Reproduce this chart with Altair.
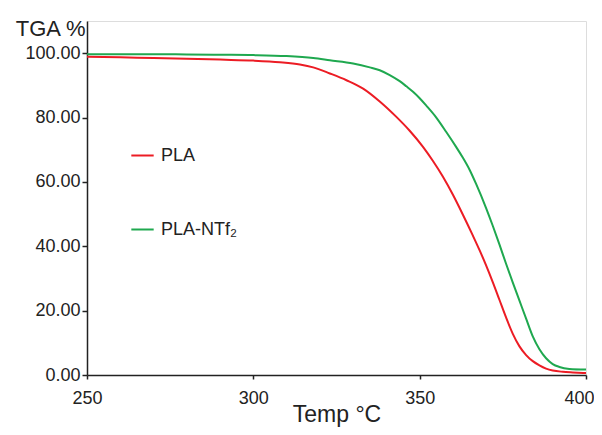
import altair as alt
import pandas as pd

# PLA (red) TGA curve
pla_temp = [250, 260, 270, 280, 290, 300, 308, 314, 318, 323, 328, 333, 338, 343, 347,
            351, 354, 357, 360, 363, 366, 368, 370, 372, 374, 376, 378, 380, 382, 384,
            386, 388, 390, 393, 396, 400]
pla_val = [98.9, 98.7, 98.5, 98.3, 98.0, 97.7, 97.2, 96.5, 95.6, 93.7, 91.6, 89.0, 85.0, 80.2, 75.9,
           70.9, 66.5, 61.6, 56.0, 49.8, 43.3, 38.8, 34.0, 28.8, 23.3, 17.8, 12.8, 8.9, 6.2, 4.3,
           3.0, 2.0, 1.4, 1.0, 0.8, 0.6]

# PLA-NTf2 (green) TGA curve
ntf_temp = [250, 260, 270, 280, 290, 300, 310, 318, 323, 330, 335, 338, 341, 344, 346,
            348, 350, 352, 355, 358, 361, 363, 365, 367, 370, 372, 374, 376, 378, 380,
            382, 384, 386, 388, 390, 392, 395, 400]
ntf_val = [99.7, 99.7, 99.7, 99.6, 99.5, 99.4, 99.1, 98.5, 97.8, 96.8, 95.6, 94.7, 93.2, 91.3, 89.7,
           88.0, 86.0, 83.7, 80.0, 75.5, 70.8, 67.5, 63.8, 59.3, 51.8, 46.3, 40.5, 34.5, 28.7, 23.1,
           17.5, 12.0, 8.0, 5.2, 3.4, 2.5, 1.9, 1.7]

series_names = ["PLA", "PLA-NTf\u2082"]
series_colors = ["#ec1c24", "#1fa84f"]

x_ticks = [250, 300, 350, 400]
y_ticks = [0, 20, 40, 60, 80, 100]

df = pd.concat([
    pd.DataFrame({"temp": pla_temp, "tga": pla_val, "series": series_names[0]}),
    pd.DataFrame({"temp": ntf_temp, "tga": ntf_val, "series": series_names[1]}),
])

FONT = "Liberation Sans"
INK = "#222222"

chart = alt.Chart(df).mark_line(strokeWidth=2, interpolate="monotone").encode(
    x=alt.X("temp:Q",
            scale=alt.Scale(domain=[250, 400], nice=False, zero=False),
            axis=alt.Axis(values=x_ticks, format="d", title="Temp \u00b0C",
                          titleY=46, titleBaseline="alphabetic",
                          grid=False, tickSize=4, labelPadding=10,
                          labelFlush=False,
                          labelAlign={"expr": "datum.value >= 400 ? 'right' : 'center'"},
                          labelOffset={"expr": "datum.value >= 400 ? 8 : 0"},
                          labelFontSize=18, titleFontSize=23,
                          labelFont=FONT, titleFont=FONT,
                          titleFontWeight="normal",
                          labelColor=INK, titleColor=INK,
                          domainColor=INK, tickColor=INK,
                          domainWidth=1.5, tickWidth=1.5)),
    y=alt.Y("tga:Q",
            scale=alt.Scale(domain=[0, 110], nice=False, zero=True),
            axis=alt.Axis(values=y_ticks, format=".2f", title="TGA %",
                          titleAngle=0, titleAlign="right", titleX=-2, titleY=14,
                          titleBaseline="alphabetic",
                          grid=False, tickSize=5, labelPadding=2,
                          labelFontSize=18, titleFontSize=22,
                          labelFont=FONT, titleFont=FONT,
                          titleFontWeight="normal",
                          labelColor=INK, titleColor=INK,
                          domainColor=INK, tickColor=INK,
                          domainWidth=1.5, tickWidth=1.5)),
    color=alt.Color("series:N",
                    scale=alt.Scale(domain=series_names, range=series_colors),
                    legend=alt.Legend(title=None, orient="none", legendX=43, legendY=122,
                                      symbolType="stroke", symbolSize=500,
                                      symbolStrokeWidth=2, rowPadding=52,
                                      labelFontSize=18, labelFont=FONT,
                                      labelColor=INK, labelOffset=6)),
).properties(
    width=499, height=354,
    autosize=alt.AutoSizeParams(type="none"),
    padding={"left": 79, "top": 13, "right": 8, "bottom": 52},
).configure_view(stroke=None).configure(background="white")

chart.save("out.html", embed_options={"renderer": "svg", "actions": False})
